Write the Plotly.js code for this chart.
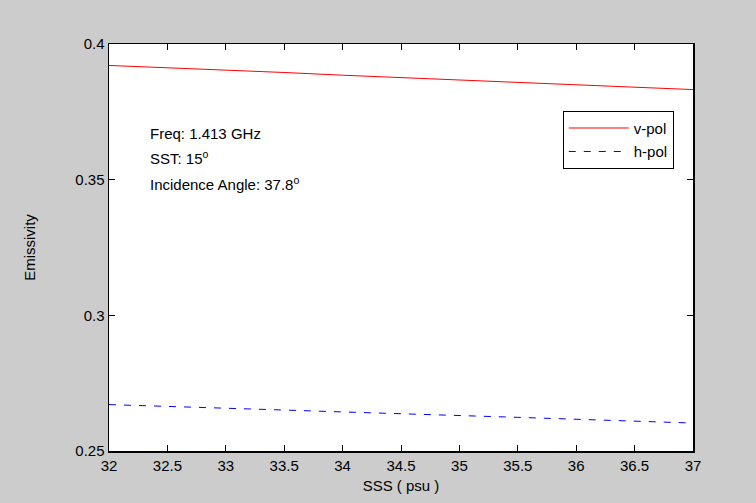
<!DOCTYPE html>
<html>
<head>
<meta charset="utf-8">
<script src="https://cdn.plot.ly/plotly-3.0.1.min.js"></script>
<style>
html,body{margin:0;padding:0;background:#cccccc;}
#chart{width:756px;height:503px;}
</style>
</head>
<body>
<div id="chart"></div>
<script>
// SSS (psu)
var sss = [32, 32.5, 33, 33.5, 34, 34.5, 35, 35.5, 36, 36.5, 37];
// emissivity, vertical polarization
var vPol = [0.3921, 0.3913, 0.3904, 0.3895, 0.3885, 0.3876, 0.3867, 0.3858, 0.3849, 0.3840, 0.3832];
// emissivity, horizontal polarization
var hPol = [0.2671, 0.2665, 0.2658, 0.2651, 0.2644, 0.2638, 0.2631, 0.2624, 0.2617, 0.2610, 0.2603];
var xTicks = [32, 32.5, 33, 33.5, 34, 34.5, 35, 35.5, 36, 36.5, 37];
var yTicks = [0.25, 0.3, 0.35, 0.4];
var yTickText = ['0.25', '0.3', '0.35', '0.4'];
var infoLines = ['Freq: 1.413 GHz', 'SST: 15<sup>o</sup>', 'Incidence Angle: 37.8<sup>o</sup>'];
var infoY = [0.781, 0.722, 0.658];

var font = {family: 'Liberation Sans, Arial, sans-serif', size: 15, color: '#000'};

var traces = [
  {x: sss, y: vPol, type: 'scatter', mode: 'lines', name: 'v-pol', legendgroup: 'a',
   line: {color: '#ff0000', width: 1}},
  {x: sss, y: hPol, type: 'scatter', mode: 'lines', name: 'h-pol', legendgroup: 'b',
   line: {color: '#0000ff', width: 1, dash: '7px,8px'}}
];

var axisCommon = {
  showgrid: false, zeroline: false, showline: true, linecolor: '#000', linewidth: 1.5,
  mirror: 'ticks', ticks: 'inside', ticklen: 6, tickcolor: '#000', tickwidth: 1,
  tickfont: font
};

var annotations = infoLines.map(function (t, i) {
  return {
    xref: 'paper', yref: 'paper', x: 0.066, y: infoY[i], xanchor: 'left', yanchor: 'middle',
    align: 'left', showarrow: false, text: t, font: font
  };
});

var layout = {
  width: 756, height: 503,
  paper_bgcolor: '#cccccc', plot_bgcolor: '#ffffff',
  margin: {l: 109, r: 63, t: 44, b: 52},
  font: font,
  showlegend: true,
  xaxis: Object.assign({}, axisCommon, {
    range: [32, 37], tickmode: 'array', tickvals: xTicks,
    title: {text: 'SSS ( psu )', font: font, standoff: 8}
  }),
  yaxis: Object.assign({}, axisCommon, {
    range: [0.25, 0.4], tickmode: 'array', tickvals: yTicks, ticktext: yTickText,
    title: {text: 'Emissivity', font: font, standoff: 36}
  }),
  legend: {
    x: 0.777, y: 0.836, xanchor: 'left', yanchor: 'top',
    bgcolor: '#ffffff', bordercolor: '#000', borderwidth: 1,
    font: font, traceorder: 'grouped', tracegroupgap: 1, itemwidth: 60
  },
  annotations: annotations
};

Plotly.newPlot('chart', traces, layout, {displayModeBar: false, staticPlot: true});
</script>
</body>
</html>
